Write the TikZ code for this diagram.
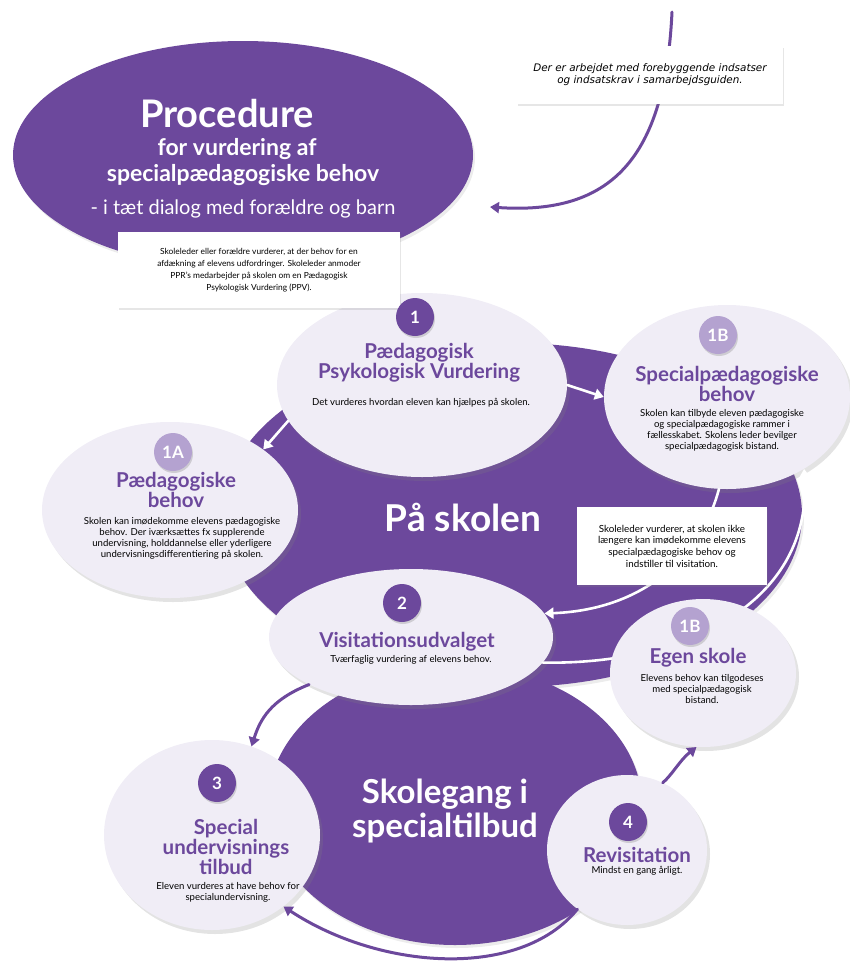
\documentclass[tikz,border=0pt]{standalone}
\usepackage{fontspec}
\setmainfont{Lato}
\newfontfamily\widefont{DejaVu Sans}
\usetikzlibrary{shapes.geometric,shadows,arrows.meta}

\definecolor{purp}{RGB}{108,72,156}
\definecolor{lilac}{RGB}{240,237,246}
\definecolor{badgelight}{RGB}{180,162,208}

\tikzset{
  bigblob/.style={ellipse, fill=purp, inner sep=0pt,
    drop shadow={opacity=0.15, shadow xshift=2pt, shadow yshift=-3pt}},
  blob/.style={ellipse, fill=lilac, inner sep=0pt,
    drop shadow={opacity=0.22, shadow xshift=3pt, shadow yshift=-4pt}},
  badge/.style={circle, fill=purp, minimum size=38pt, inner sep=0pt, text=white,
    font=\bfseries\fontsize{17}{17}\selectfont,
    drop shadow={opacity=0.3, shadow xshift=1pt, shadow yshift=-2pt}},
  badgeB/.style={badge, fill=badgelight},
  head/.style={text=purp, align=center, inner sep=0pt,
    font=\bfseries\fontsize{20.5}{17.5}\selectfont},
  desc/.style={align=center, inner sep=0pt, font=\fontsize{9.6}{11}\selectfont},
  note/.style={fill=white, inner sep=0pt, align=center,
    font=\fontsize{8.4}{12}\selectfont,
    drop shadow={opacity=0.2, shadow xshift=1pt, shadow yshift=-2pt}},
  bigtext/.style={text=white, align=center, inner sep=0pt},
  warrow/.style={draw=white, line width=2.6pt, -{Triangle[length=9pt,width=11pt]}},
  parrow/.style={draw=purp, line width=3pt, -{Triangle[length=9pt,width=11pt]}},
}

\begin{document}
\begin{tikzpicture}[x=1pt,y=-1pt,line cap=round,line join=round]
  \useasboundingbox (0,0) rectangle (850,969);

  % purple discs
  \node[bigblob, minimum width=460pt, minimum height=228pt] (proc) at (243,155) {};
  \node[bigblob, minimum width=580pt, minimum height=344pt] (skolen) at (512,515) {};
  \node[bigblob, minimum width=374pt, minimum height=280pt] (tilbud) at (455,805) {};

  % line from above into the title
  \coordinate (topin) at (672,12);
  \coordinate (procin) at (490,207);
  \draw[parrow] (topin) .. controls (665,160) and (610,215) .. (procin);

  % light steps
  \node[blob, minimum width=290pt, minimum height=184pt] (ppv) at (422,385) {};
  \node[blob, minimum width=246pt, minimum height=184pt] (spb) at (727,397) {};
  \node[blob, minimum width=256pt, minimum height=176pt] (pb) at (170,510) {};
  \node[blob, minimum width=284pt, minimum height=136pt] (visit) at (411,637) {};
  \node[blob, minimum width=216pt, minimum height=190pt] (sut) at (212,835) {};
  \node[blob, minimum width=160pt, minimum height=150pt] (revis) at (627,850) {};

  \draw[warrow] (ppv.east) -- (spb.west);
  \draw[warrow] (ppv.195) -- (pb.33);
  \draw[warrow] (spb.265) .. controls (700,560) and (640,610) .. (visit.10);
  \draw[warrow] (visit.-11) .. controls (690,665) and (812,600) .. (spb.-43);
  \draw[parrow] (visit.205) .. controls (270,700) and (260,720) .. (sut.66);
  \draw[parrow] (revis.230) .. controls (520,980) and (380,970) .. (sut.-45);

  \node[blob, minimum width=186pt, minimum height=148pt] (egen) at (703,673) {};
  \draw[parrow] (revis.62) .. controls (672,775) and (680,760) .. (egen.-95);

  % white notes
  \node[note, minimum width=282pt, minimum height=76pt] (askbox) at (259,270)
    {Skoleleder eller forældre vurderer, at der behov for en\\
     afdækning af elevens udfordringer. Skoleleder anmoder\\
     PPR’s medarbejder på skolen om en Pædagogisk\\
     Psykologisk Vurdering (PPV).};
  \node[note, minimum width=266pt, minimum height=58pt,
        font=\widefont\itshape\fontsize{10.4}{12}\selectfont] (prevbox) at (650,75)
    {Der er arbejdet med forebyggende indsatser\\
     og indsatskrav i samarbejdsguiden.};
  \node[note, minimum width=190pt, minimum height=78pt,
        font=\fontsize{9.8}{11.7}\selectfont] (stopbox) at (672,546)
    {Skoleleder vurderer, at skolen ikke\\
     længere kan imødekomme elevens\\
     specialpædagogiske behov og\\
     indstiller til visitation.};

  % titles in the purple discs
  \node[bigtext, font=\bfseries\fontsize{38}{38}\selectfont] (procA) at (227,114) {Procedure};
  \node[bigtext, font=\bfseries\fontsize{23}{26}\selectfont] (procB) at (243,162)
    {\hspace*{-12pt}for vurdering af\\specialpædagogiske behov};
  \node[bigtext, font=\fontsize{20}{20}\selectfont] (procC) at (243,209)
    {- i tæt dialog med forældre og barn};
  \node[bigtext, font=\bfseries\fontsize{37}{37}\selectfont] (skolenT) at (463,517) {På skolen};
  \node[bigtext, font=\bfseries\fontsize{33}{34}\selectfont] (tilbudT) at (445,811)
    {Skolegang i\\specialtilbud};

  % badges
  \node[badge]  (b1)  at (415,317) {1};
  \node[badgeB] (b1b) at (718,335) {1B};
  \node[badgeB] (b1a) at (173,452) {1A};
  \node[badge]  (b2)  at (402,603) {2};
  \node[badgeB] (b1e) at (690,626) {1B};
  \node[badge]  (b3)  at (217,783) {3};
  \node[badge]  (b4)  at (628,822) {4};

  % step texts
  \node[head] (ppvT) at (419,363) {Pædagogisk\\Psykologisk Vurdering};
  \node[desc] (ppvD) at (421,403) {Det vurderes hvordan eleven kan hjælpes på skolen.};

  \node[head] (spbT) at (727,384) {Specialpædagogiske\\behov};
  \node[desc] (spbD) at (722,430)
    {Skolen kan tilbyde eleven pædagogiske\\og specialpædagogiske rammer i\\
     fællesskabet. Skolens leder bevilger\\specialpædagogisk bistand.};

  \node[head] (pbT) at (176,490) {Pædagogiske\\behov};
  \node[desc] (pbD) at (182,538)
    {Skolen kan imødekomme elevens pædagogiske\\behov. Der iværksættes fx supplerende\\
     undervisning, holddannelse eller yderligere\\undervisningsdifferentiering på skolen.};

  \node[head] (visitT) at (407,642) {Visitationsudvalget};
  \node[desc] (visitD) at (411,660) {Tværfaglig vurdering af elevens behov.};

  \node[head] (egenT) at (698,658) {Egen skole};
  \node[desc] (egenD) at (702,689)
    {Elevens behov kan tilgodeses\\med specialpædagogisk\\bistand.};

  \node[head] (sutT) at (226,847) {Special\\undervisnings\\tilbud};
  \node[desc] (sutD) at (228,892) {Eleven vurderes at have behov for\\specialundervisning.};

  \node[head] (revisT) at (637,855) {Revisitation};
  \node[desc] (revisD) at (637,871) {Mindst en gang årligt.};
\end{tikzpicture}
\end{document}
